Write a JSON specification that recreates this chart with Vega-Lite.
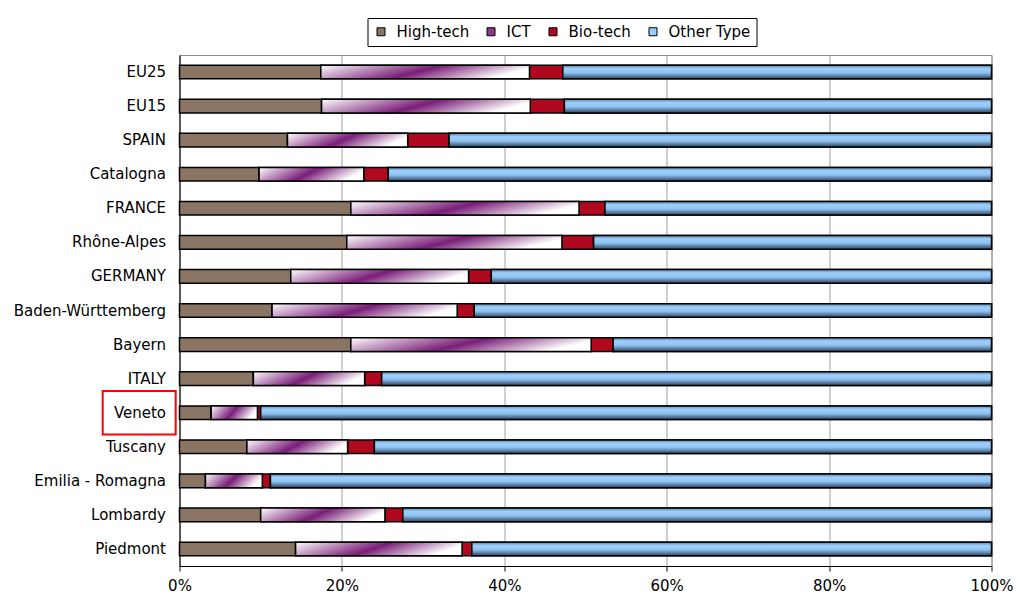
{
  "$schema": "https://vega.github.io/schema/vega-lite/v6.json",
  "autosize": "none",
  "width": 812,
  "height": 511,
  "padding": {"left": 179.5, "top": 55, "right": 25, "bottom": 33},
  "background": "white",
  "config": {
    "font": "DejaVu Sans",
    "view": {"stroke": "#8c8c8c", "strokeWidth": 1},
    "axis": {"labelFont": "DejaVu Sans", "labelFontSize": 15, "labelColor": "#000000"},
    "legend": {"labelFont": "DejaVu Sans", "labelFontSize": 15, "labelColor": "#000000"}
  },
  "layer": [
    {
      "data": {
        "values": [
          {"region": "EU25", "type": "High-tech", "order": 1, "value": 17.4},
          {"region": "EU25", "type": "ICT", "order": 2, "value": 25.7},
          {"region": "EU25", "type": "Bio-tech", "order": 3, "value": 4.1},
          {"region": "EU25", "type": "Other Type", "order": 4, "value": 52.8},
          {"region": "EU15", "type": "High-tech", "order": 1, "value": 17.5},
          {"region": "EU15", "type": "ICT", "order": 2, "value": 25.7},
          {"region": "EU15", "type": "Bio-tech", "order": 3, "value": 4.2},
          {"region": "EU15", "type": "Other Type", "order": 4, "value": 52.6},
          {"region": "SPAIN", "type": "High-tech", "order": 1, "value": 13.3},
          {"region": "SPAIN", "type": "ICT", "order": 2, "value": 14.8},
          {"region": "SPAIN", "type": "Bio-tech", "order": 3, "value": 5.1},
          {"region": "SPAIN", "type": "Other Type", "order": 4, "value": 66.8},
          {"region": "Catalogna", "type": "High-tech", "order": 1, "value": 9.8},
          {"region": "Catalogna", "type": "ICT", "order": 2, "value": 12.9},
          {"region": "Catalogna", "type": "Bio-tech", "order": 3, "value": 3.0},
          {"region": "Catalogna", "type": "Other Type", "order": 4, "value": 74.3},
          {"region": "FRANCE", "type": "High-tech", "order": 1, "value": 21.1},
          {"region": "FRANCE", "type": "ICT", "order": 2, "value": 28.1},
          {"region": "FRANCE", "type": "Bio-tech", "order": 3, "value": 3.2},
          {"region": "FRANCE", "type": "Other Type", "order": 4, "value": 47.6},
          {"region": "Rhône-Alpes", "type": "High-tech", "order": 1, "value": 20.6},
          {"region": "Rhône-Alpes", "type": "ICT", "order": 2, "value": 26.5},
          {"region": "Rhône-Alpes", "type": "Bio-tech", "order": 3, "value": 3.9},
          {"region": "Rhône-Alpes", "type": "Other Type", "order": 4, "value": 49.0},
          {"region": "GERMANY", "type": "High-tech", "order": 1, "value": 13.7},
          {"region": "GERMANY", "type": "ICT", "order": 2, "value": 21.9},
          {"region": "GERMANY", "type": "Bio-tech", "order": 3, "value": 2.8},
          {"region": "GERMANY", "type": "Other Type", "order": 4, "value": 61.6},
          {"region": "Baden-Württemberg", "type": "High-tech", "order": 1, "value": 11.4},
          {"region": "Baden-Württemberg", "type": "ICT", "order": 2, "value": 22.8},
          {"region": "Baden-Württemberg", "type": "Bio-tech", "order": 3, "value": 2.1},
          {"region": "Baden-Württemberg", "type": "Other Type", "order": 4, "value": 63.7},
          {"region": "Bayern", "type": "High-tech", "order": 1, "value": 21.1},
          {"region": "Bayern", "type": "ICT", "order": 2, "value": 29.6},
          {"region": "Bayern", "type": "Bio-tech", "order": 3, "value": 2.7},
          {"region": "Bayern", "type": "Other Type", "order": 4, "value": 46.6},
          {"region": "ITALY", "type": "High-tech", "order": 1, "value": 9.1},
          {"region": "ITALY", "type": "ICT", "order": 2, "value": 13.7},
          {"region": "ITALY", "type": "Bio-tech", "order": 3, "value": 2.1},
          {"region": "ITALY", "type": "Other Type", "order": 4, "value": 75.1},
          {"region": "Veneto", "type": "High-tech", "order": 1, "value": 3.9},
          {"region": "Veneto", "type": "ICT", "order": 2, "value": 5.7},
          {"region": "Veneto", "type": "Bio-tech", "order": 3, "value": 0.4},
          {"region": "Veneto", "type": "Other Type", "order": 4, "value": 90.0},
          {"region": "Tuscany", "type": "High-tech", "order": 1, "value": 8.3},
          {"region": "Tuscany", "type": "ICT", "order": 2, "value": 12.4},
          {"region": "Tuscany", "type": "Bio-tech", "order": 3, "value": 3.3},
          {"region": "Tuscany", "type": "Other Type", "order": 4, "value": 76.0},
          {"region": "Emilia - Romagna", "type": "High-tech", "order": 1, "value": 3.2},
          {"region": "Emilia - Romagna", "type": "ICT", "order": 2, "value": 7.0},
          {"region": "Emilia - Romagna", "type": "Bio-tech", "order": 3, "value": 1.0},
          {"region": "Emilia - Romagna", "type": "Other Type", "order": 4, "value": 88.8},
          {"region": "Lombardy", "type": "High-tech", "order": 1, "value": 10.0},
          {"region": "Lombardy", "type": "ICT", "order": 2, "value": 15.3},
          {"region": "Lombardy", "type": "Bio-tech", "order": 3, "value": 2.2},
          {"region": "Lombardy", "type": "Other Type", "order": 4, "value": 72.5},
          {"region": "Piedmont", "type": "High-tech", "order": 1, "value": 14.3},
          {"region": "Piedmont", "type": "ICT", "order": 2, "value": 20.5},
          {"region": "Piedmont", "type": "Bio-tech", "order": 3, "value": 1.2},
          {"region": "Piedmont", "type": "Other Type", "order": 4, "value": 64.0}
        ]
      },
      "transform": [
        {"stack": "value", "groupby": ["region"], "offset": "normalize", "sort": [{"field": "order", "order": "ascending"}], "as": ["x0", "x1"]}
      ],
      "layer": [
        {
          "mark": {"type": "bar", "stroke": "#000000", "strokeWidth": 1.5},
          "encoding": {
            "y": {
              "field": "region", "type": "nominal",
              "scale": {
                "domain": ["EU25", "EU15", "SPAIN", "Catalogna", "FRANCE", "Rhône-Alpes", "GERMANY", "Baden-Württemberg", "Bayern", "ITALY", "Veneto", "Tuscany", "Emilia - Romagna", "Lombardy", "Piedmont"],
                "paddingInner": 0.6, "paddingOuter": 0.3
              },
              "axis": {"title": null, "ticks": false, "tickSize": 0, "labelPadding": 14, "domainColor": "#000000", "domainWidth": 1}
            },
            "x": {
              "field": "x0", "type": "quantitative",
              "scale": {"domain": [0, 1], "nice": false, "zero": true},
              "axis": {"title": null, "values": [0, 0.2, 0.4, 0.6, 0.8, 1], "format": ".0%", "labelFlush": false, "grid": true, "gridColor": "#a0a0a0", "gridWidth": 1, "domainColor": "#000000", "tickColor": "#000000", "tickSize": 5, "labelPadding": 7}
            },
            "x2": {"field": "x1"},
            "color": {
              "field": "type", "type": "nominal",
              "scale": {"domain": ["High-tech", "ICT", "Bio-tech", "Other Type"], "range": ["#8a7565", "#8a3a88", "#b0091f", "#99ccff"]},
              "legend": {
                "title": null, "orient": "none", "legendX": 188, "legendY": -37, "direction": "horizontal",
                "strokeColor": "#000000", "padding": 6, "symbolType": "square", "symbolSize": 64,
                "symbolStrokeColor": "#000000", "symbolStrokeWidth": 1, "symbolOpacity": 1,
                "columnPadding": 14, "labelOffset": 8, "labelFontSize": 15
              }
            }
          }
        },
        {
          "transform": [{"filter": "datum.type == 'ICT'"}],
          "mark": {
            "type": "bar", "stroke": "#000000", "strokeWidth": 1.5,
            "fill": {"gradient": "linear", "x1": 0, "y1": 0, "x2": 1, "y2": 0.25,
              "stops": [{"offset": 0, "color": "#ffffff"}, {"offset": 0.55, "color": "#7a1e78"}, {"offset": 1, "color": "#ffffff"}]}
          },
          "encoding": {
            "y": {"field": "region", "type": "nominal"},
            "x": {"field": "x0", "type": "quantitative"},
            "x2": {"field": "x1"}
          }
        },
        {
          "transform": [{"filter": "datum.type == 'Other Type'"}],
          "mark": {
            "type": "bar", "stroke": "#000000", "strokeWidth": 1.5,
            "fill": {"gradient": "linear", "x1": 0, "y1": 0, "x2": 0, "y2": 1,
              "stops": [{"offset": 0, "color": "#5b84ab"}, {"offset": 0.25, "color": "#9dd0fc"}, {"offset": 0.55, "color": "#90c3f2"}, {"offset": 1, "color": "#2c4560"}]}
          },
          "encoding": {
            "y": {"field": "region", "type": "nominal"},
            "x": {"field": "x0", "type": "quantitative"},
            "x2": {"field": "x1"}
          }
        }
      ]
    },
    {
      "data": {"values": [{"region": "Veneto", "left": -0.0946, "right": -0.0047}]},
      "mark": {"type": "bar", "fill": "transparent", "stroke": "#ff0000", "strokeWidth": 2, "height": {"band": 3.2}},
      "encoding": {
        "y": {"field": "region", "type": "nominal"},
        "x": {"field": "left", "type": "quantitative"},
        "x2": {"field": "right"}
      }
    }
  ]
}
